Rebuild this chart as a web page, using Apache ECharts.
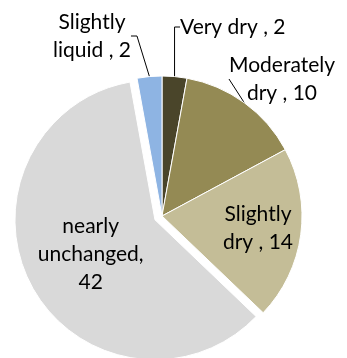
<!DOCTYPE html>
<html>
<head>
<meta charset="utf-8">
<script src="https://cdn.jsdelivr.net/npm/echarts@6/dist/echarts.min.js"></script>
<style>
  html, body { margin: 0; padding: 0; background: #fff; }
  #chart { width: 347px; height: 358px; }
</style>
</head>
<body>
<div id="chart"></div>
<script>
const categories = ['Very dry ', 'Moderately dry ', 'Slightly dry ', 'nearly unchanged', 'Slightly liquid '];
const values = [2, 10, 14, 42, 2];
const labelTexts = ['Very dry , 2', 'Moderately\ndry , 10', 'Slightly\ndry , 14', 'nearly\nunchanged,\n42', 'Slightly\nliquid , 2'];
const colors = ['#4a452a', '#948a54', '#c4bd97', '#d9d9d9', '#8eb4e3'];

// where each label sits (label placement only)
const labelPos = [
  { x: 180, y: 27, align: 'left' },
  { x: 282, y: 79, align: 'center' },
  { x: 258, y: 228, align: 'center' },
  { x: 76, y: 243, align: 'center' },
  { x: 92, y: 36, align: 'center' }
];
const outside = [true, true, false, false, true];

const chart = echarts.init(document.getElementById('chart'));

const data = categories.map(function (name, i) {
  return {
    name: name,
    value: values[i],
    selected: i === 3,
    itemStyle: { color: colors[i] },
    label: { formatter: labelTexts[i], position: outside[i] ? 'outside' : 'inside' },
    labelLine: { show: outside[i] }
  };
});

chart.setOption({
  animation: false,
  series: [{
    type: 'pie',
    center: [162, 216],
    radius: 140,
    startAngle: 90,
    clockwise: true,
    selectedMode: 'single',
    selectedOffset: 8,
    itemStyle: { borderColor: '#ffffff', borderWidth: 1 },
    label: {
      show: true,
      color: '#000',
      fontFamily: 'Lato',
      fontSize: 21,
      lineHeight: 28,
      overflow: 'none'
    },
    labelLine: {
      lineStyle: { color: '#000', width: 1 },
      length: 10,
      length2: 6
    },
    emphasis: { disabled: true },
    labelLayout: function (params) {
      const p = labelPos[params.dataIndex];
      return { x: p.x, y: p.y, align: p.align, verticalAlign: 'middle' };
    },
    data: data
  }]
});
</script>
</body>
</html>
